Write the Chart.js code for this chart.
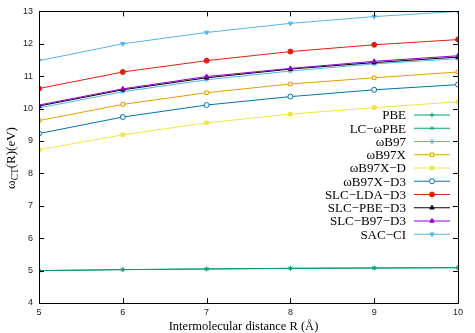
<!DOCTYPE html>
<html>
<head>
<meta charset="utf-8">
<script src="https://cdn.jsdelivr.net/npm/chart.js@4/dist/chart.umd.min.js"></script>
<style>
  html, body { margin: 0; padding: 0; background: #fff; }
  #wrap { width: 475px; height: 333px; position: relative; }
</style>
</head>
<body>
<div id="wrap"><canvas id="chart"></canvas></div>
<script>
const distances = [5, 6, 7, 8, 9, 10];

const labels = ["PBE", "LC−ωPBE", "ωB97", "ωB97X", "ωB97X−D", "ωB97X−D3",
  "SLC−LDA−D3", "SLC−PBE−D3", "SLC−B97−D3", "SAC−CI"];

const pbe = [5.0, 5.03, 5.05, 5.07, 5.08, 5.09];
const lcwpbe = [5.0, 5.03, 5.05, 5.07, 5.08, 5.09];
const wb97 = [10.02, 10.52, 10.89, 11.16, 11.38, 11.54];
const wb97x = [9.63, 10.13, 10.49, 10.76, 10.95, 11.13];
const wb97xd = [8.73, 9.19, 9.56, 9.83, 10.03, 10.21];
const wb97xd3 = [9.23, 9.74, 10.11, 10.37, 10.58, 10.74];
const slcLda = [10.62, 11.13, 11.48, 11.76, 11.97, 12.13];
const slcPbe = [10.08, 10.58, 10.95, 11.22, 11.42, 11.59];
const slcB97 = [10.11, 10.61, 10.99, 11.24, 11.46, 11.63];
const sacci = [11.48, 12.0, 12.35, 12.63, 12.84, 13.0];

const xTicks = [5, 6, 7, 8, 9, 10];
const yTicks = [4, 5, 6, 7, 8, 9, 10, 11, 12, 13];

const series = [
  { values: pbe, color: "#009e73", style: "cross", fill: true },
  { values: lcwpbe, color: "#009e73", style: "crossRot", fill: true },
  { values: wb97, color: "#56b4e9", style: "star", fill: true },
  { values: wb97x, color: "#e69f00", style: "rect", fill: false },
  { values: wb97xd, color: "#f0e442", style: "rect", fill: true },
  { values: wb97xd3, color: "#0072b2", style: "circle", fill: false },
  { values: slcLda, color: "#e51e10", style: "circle", fill: true },
  { values: slcPbe, color: "#000000", style: "triangle", fill: true },
  { values: slcB97, color: "#9400d3", style: "triangle", fill: true },
  { values: sacci, color: "#56b4e9", style: "triangle", fill: true, rot: 180 }
];

const datasets = series.map((s, i) => ({
  label: labels[i],
  data: distances.map((d, j) => ({ x: d, y: s.values[j] })),
  borderColor: s.color,
  backgroundColor: s.fill ? s.color : "#ffffff",
  borderWidth: 1,
  pointStyle: s.style,
  pointRotation: s.rot || 0,
  pointRadius: 2.5,
  pointBorderWidth: 1,
  pointBorderColor: s.color,
  pointBackgroundColor: s.fill ? s.color : "#ffffff",
  tension: 0,
  order: series.length - i
}));

// frame with gnuplot style inward ticks on all sides
const framePlugin = {
  id: "frame",
  afterDatasetsDraw(chart) {
    const { ctx, chartArea: a, scales } = chart;
    ctx.save();
    ctx.strokeStyle = "#000";
    ctx.lineWidth = 1;
    const tick = 5;
    ctx.beginPath();
    xTicks.forEach(v => {
      const px = Math.round(scales.x.getPixelForValue(v)) + 0.5;
      ctx.moveTo(px, a.bottom); ctx.lineTo(px, a.bottom - tick);
      ctx.moveTo(px, a.top); ctx.lineTo(px, a.top + tick);
    });
    yTicks.forEach(v => {
      const py = Math.round(scales.y.getPixelForValue(v)) + 0.5;
      ctx.moveTo(a.left, py); ctx.lineTo(a.left + tick, py);
      ctx.moveTo(a.right, py); ctx.lineTo(a.right - tick, py);
    });
    ctx.stroke();
    ctx.strokeRect(Math.round(a.left) + 0.5, Math.round(a.top) + 0.5,
      Math.round(a.right - a.left), Math.round(a.bottom - a.top));
    ctx.restore();
  }
};

function marker(ctx, ds, x, y) {
  ctx.fillStyle = ds.pointBackgroundColor;
  ctx.strokeStyle = ds.pointBorderColor;
  ctx.lineWidth = ds.pointBorderWidth;
  Chart.helpers.drawPoint(ctx, {
    pointStyle: ds.pointStyle,
    radius: ds.pointRadius,
    rotation: ds.pointRotation,
    borderWidth: ds.pointBorderWidth
  }, x, y);
}

// legend inside the plot, text right aligned before the sample
const legendPlugin = {
  id: "gpLegend",
  afterDraw(chart) {
    const { ctx } = chart;
    ctx.save();
    ctx.font = "13px 'Liberation Serif', 'DejaVu Serif', serif";
    ctx.textAlign = "right";
    ctx.textBaseline = "middle";
    chart.data.datasets.forEach((ds, i) => {
      const y = 115 + i * 13.25;
      ctx.fillStyle = "#000";
      ctx.fillText(ds.label, 406, y + 1);
      ctx.strokeStyle = ds.borderColor;
      ctx.lineWidth = 1;
      ctx.beginPath();
      ctx.moveTo(414, y); ctx.lineTo(450, y);
      ctx.stroke();
      marker(ctx, ds, 432, y);
    });
    ctx.restore();
  }
};

// axis titles, the y one has a subscript
const titlesPlugin = {
  id: "titles",
  afterDraw(chart) {
    const { ctx, chartArea: a } = chart;
    ctx.save();
    ctx.fillStyle = "#000";
    ctx.font = "12.5px 'Liberation Serif', 'DejaVu Serif', serif";
    ctx.textAlign = "center";
    ctx.textBaseline = "alphabetic";
    ctx.fillText("Intermolecular distance R (Å)", (a.left + a.right) / 2 - 5, 330);

    ctx.translate(15, 158);
    ctx.rotate(-Math.PI / 2);
    const big = "13px 'Liberation Serif', 'DejaVu Serif', serif";
    const small = "9.5px 'Liberation Serif', 'DejaVu Serif', serif";
    const parts = [["ω", big, 0], ["CT", small, 3], ["(R)(eV)", big, 0]];
    let total = 0;
    parts.forEach(p => { ctx.font = p[1]; total += ctx.measureText(p[0]).width; });
    let x = -total / 2;
    ctx.textAlign = "left";
    parts.forEach(p => {
      ctx.font = p[1];
      ctx.fillText(p[0], x, p[2]);
      x += ctx.measureText(p[0]).width;
    });
    ctx.restore();
  }
};

new Chart(document.getElementById("chart"), {
  type: "line",
  data: { datasets },
  options: {
    responsive: true,
    maintainAspectRatio: false,
    animation: false,
    layout: { padding: { left: 0, top: 11, right: 17, bottom: 0 } },
    plugins: {
      legend: { display: false },
      tooltip: { enabled: false }
    },
    scales: {
      x: {
        type: "linear",
        min: 5,
        max: 10,
        grid: { display: false, drawTicks: false },
        border: { display: false },
        afterFit: s => { s.height = 30; },
        afterBuildTicks: s => { s.ticks = xTicks.map(v => ({ value: v })); },
        ticks: {
          padding: 4,
          color: "#222",
          font: { family: "'Liberation Sans', Arial, sans-serif", size: 9 }
        }
      },
      y: {
        min: 4,
        max: 13,
        grid: { display: false, drawTicks: false },
        border: { display: false },
        afterFit: s => { s.width = 39; },
        afterBuildTicks: s => { s.ticks = yTicks.map(v => ({ value: v })); },
        ticks: {
          padding: 6,
          color: "#222",
          font: { family: "'Liberation Sans', Arial, sans-serif", size: 9 }
        }
      }
    }
  },
  plugins: [framePlugin, legendPlugin, titlesPlugin]
});
</script>
</body>
</html>
